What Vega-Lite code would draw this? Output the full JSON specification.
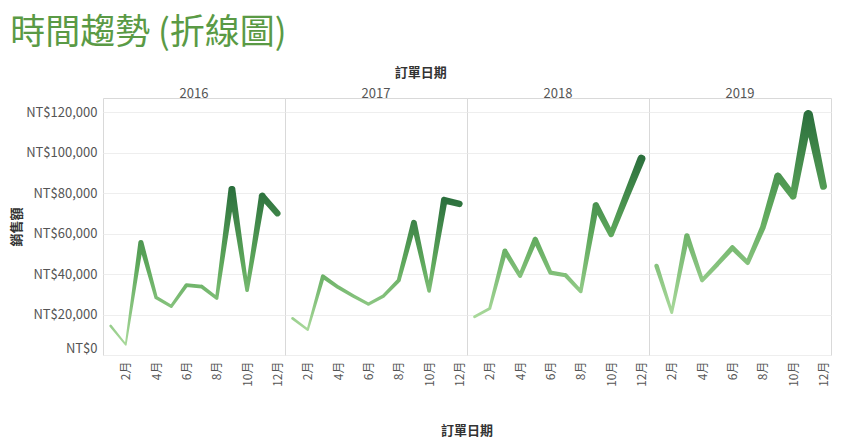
{
  "$schema": "https://vega.github.io/schema/vega-lite/v6.json",
  "padding": {"left": 10, "top": 16, "right": 11, "bottom": 4},
  "background": "white",
  "title": {"text": "時間趨勢 (折線圖)", "anchor": "start", "frame": "bounds", "font": "Noto Sans CJK TC", "fontSize": 35, "fontWeight": "normal", "color": "#5a9a45", "offset": 16},
  "vconcat": [
    {
      "title": {"text": "訂單日期", "anchor": "middle", "font": "Noto Sans CJK TC", "fontSize": 13, "fontWeight": "bold", "color": "#333333", "offset": 7.5},
      "data": {"values": [
        {"year": "2016", "month": 1, "sales": 14400},
        {"year": "2016", "month": 2, "sales": 5100},
        {"year": "2016", "month": 3, "sales": 55500},
        {"year": "2016", "month": 4, "sales": 28400},
        {"year": "2016", "month": 5, "sales": 24000},
        {"year": "2016", "month": 6, "sales": 34500},
        {"year": "2016", "month": 7, "sales": 33800},
        {"year": "2016", "month": 8, "sales": 28100},
        {"year": "2016", "month": 9, "sales": 81800},
        {"year": "2016", "month": 10, "sales": 32000},
        {"year": "2016", "month": 11, "sales": 78500},
        {"year": "2016", "month": 12, "sales": 70000},
        {"year": "2017", "month": 1, "sales": 18100},
        {"year": "2017", "month": 2, "sales": 12500},
        {"year": "2017", "month": 3, "sales": 38800},
        {"year": "2017", "month": 4, "sales": 33500},
        {"year": "2017", "month": 5, "sales": 29200},
        {"year": "2017", "month": 6, "sales": 25100},
        {"year": "2017", "month": 7, "sales": 29200},
        {"year": "2017", "month": 8, "sales": 36900},
        {"year": "2017", "month": 9, "sales": 65300},
        {"year": "2017", "month": 10, "sales": 31700},
        {"year": "2017", "month": 11, "sales": 76500},
        {"year": "2017", "month": 12, "sales": 74700},
        {"year": "2018", "month": 1, "sales": 18900},
        {"year": "2018", "month": 2, "sales": 23000},
        {"year": "2018", "month": 3, "sales": 51400},
        {"year": "2018", "month": 4, "sales": 39100},
        {"year": "2018", "month": 5, "sales": 57100},
        {"year": "2018", "month": 6, "sales": 40700},
        {"year": "2018", "month": 7, "sales": 39400},
        {"year": "2018", "month": 8, "sales": 31400},
        {"year": "2018", "month": 9, "sales": 73900},
        {"year": "2018", "month": 10, "sales": 59600},
        {"year": "2018", "month": 11, "sales": 78500},
        {"year": "2018", "month": 12, "sales": 97000},
        {"year": "2019", "month": 1, "sales": 44000},
        {"year": "2019", "month": 2, "sales": 21000},
        {"year": "2019", "month": 3, "sales": 58800},
        {"year": "2019", "month": 4, "sales": 36900},
        {"year": "2019", "month": 5, "sales": 44800},
        {"year": "2019", "month": 6, "sales": 53000},
        {"year": "2019", "month": 7, "sales": 45600},
        {"year": "2019", "month": 8, "sales": 62900},
        {"year": "2019", "month": 9, "sales": 88300},
        {"year": "2019", "month": 10, "sales": 78500},
        {"year": "2019", "month": 11, "sales": 118700},
        {"year": "2019", "month": 12, "sales": 83400}
      ]},
      "facet": {
        "column": {
          "field": "year", "type": "ordinal", "title": "訂單日期",
          "header": {
            "labelOrient": "top", "titleOrient": "bottom",
            "labelFont": "Noto Sans CJK TC", "labelFontSize": 13, "labelColor": "#555555", "labelPadding": -2.5,
            "titleFont": "Noto Sans CJK TC", "titleFontSize": 13, "titleFontWeight": "bold", "titleColor": "#333333", "titlePadding": 28
          }
        }
      },
      "spacing": 0,
      "bounds": "flush",
      "spec": {
        "width": 182,
        "height": 257,
        "mark": {
          "type": "trail",
          "color": {"gradient": "linear", "x1": 0, "y1": 1, "x2": 0, "y2": 0,
            "stops": [{"offset": 0, "color": "#a9d99b"}, {"offset": 0.5, "color": "#5fa95c"}, {"offset": 1, "color": "#2a6e3c"}]}
        },
        "encoding": {
          "x": {
            "field": "month", "type": "ordinal", "title": null,
            "scale": {"padding": 0.5},
            "axis": {
              "labelExpr": "datum.value % 2 == 0 ? datum.value + '月' : ''",
              "labelAngle": 270, "labelFont": "Noto Sans CJK TC", "labelFontSize": 12, "labelColor": "#555555", "labelPadding": 6,
              "ticks": false, "domain": false, "grid": false
            }
          },
          "y": {
            "field": "sales", "type": "quantitative", "title": "銷售額",
            "scale": {"domain": [0, 127000], "nice": false},
            "axis": {
              "values": [0, 20000, 40000, 60000, 80000, 100000, 120000],
              "labelExpr": "'NT$' + format(datum.value, ',')",
              "labelFlush": true,
              "labelFont": "Noto Sans CJK TC", "labelFontSize": 13, "labelColor": "#555555", "labelPadding": 6,
              "ticks": false, "domain": false,
              "gridColor": "#eeeeee",
              "titleFont": "Noto Sans CJK TC", "titleFontSize": 13, "titleFontWeight": "bold", "titleColor": "#333333", "titlePadding": 2.5
            }
          },
          "size": {
            "field": "sales", "type": "quantitative",
            "scale": {"domain": [0, 120000], "range": [1.5, 9.5]},
            "legend": null
          }
        }
      }
    }
  ],
  "config": {
    "view": {"stroke": "#d9d9d9"},
    "font": "Noto Sans CJK TC"
  }
}
